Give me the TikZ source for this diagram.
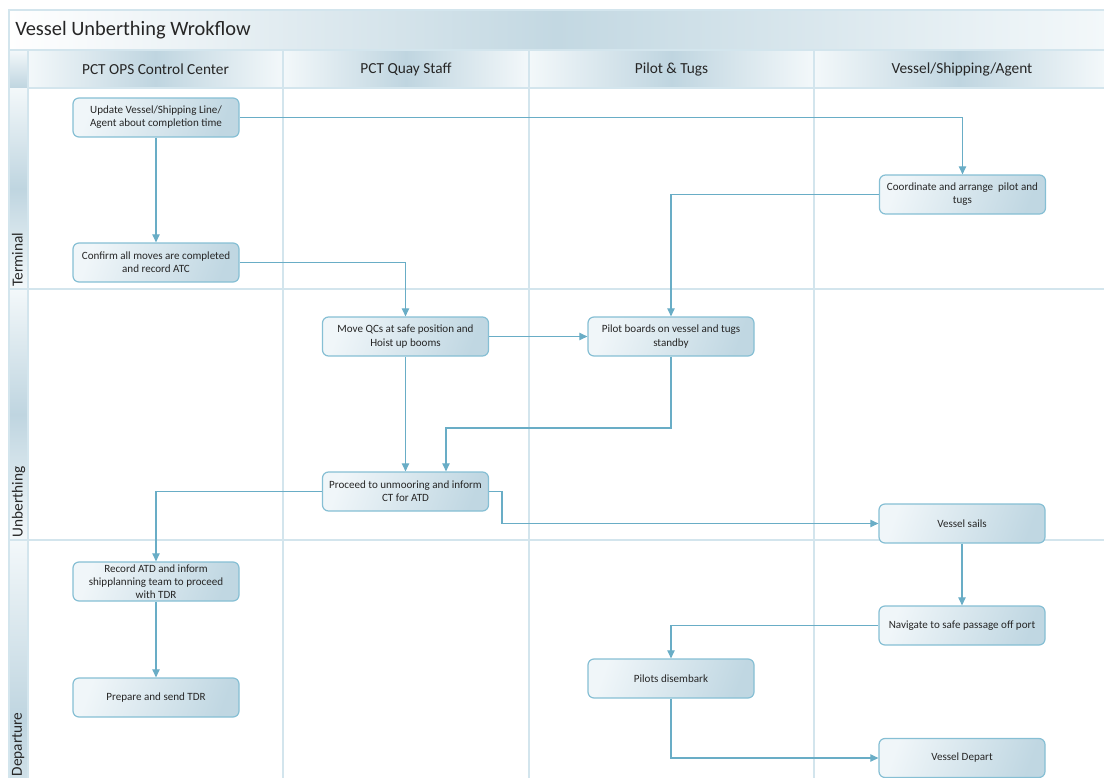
\documentclass[tikz,border=0pt]{standalone}
\usepackage{fontspec}
\setmainfont{Carlito}
\usetikzlibrary{arrows.meta}
\definecolor{gridc}{HTML}{D3E5ED}
\definecolor{boxline}{HTML}{86BFD4}
\definecolor{boxlight}{HTML}{F0F6F9}
\definecolor{boxdark}{HTML}{C0D7E2}
\definecolor{flow}{HTML}{69ADC6}
\definecolor{hdr}{HTML}{BFD5E0}
\definecolor{band}{HTML}{C3D8E2}
\definecolor{hdrlight}{HTML}{F3F8FA}
\definecolor{txt}{HTML}{262626}
\begin{document}
\begin{tikzpicture}[x=0.75pt,y=-0.75pt,
  stepbox/.style={draw=boxline, line width=0.9pt, rounded corners=4.5pt,
    left color=boxlight, right color=boxdark, shading angle=70,
    minimum width=124.5pt, minimum height=29.25pt, align=center,
    font=\fontsize{8.3}{9.9}\selectfont, text=txt, inner sep=1pt},
  flowline/.style={draw=flow, line width=0.85pt, -{Triangle[length=6pt,width=5.5pt]}},
  gridline/.style={draw=gridc, line width=1.1pt},
  headcell/.style={left color=hdrlight, right color=hdrlight, middle color=hdr},
  lanecell/.style={top color=hdrlight, bottom color=hdrlight, middle color=hdr},
  headtext/.style={font=\fontsize{11.5}{13.5}\selectfont, text=txt},
  lanetext/.style={font=\fontsize{11.5}{13.5}\selectfont, text=txt, rotate=90, anchor=north west, inner sep=1pt}]
\useasboundingbox (0,0) rectangle (1104,778);

% title band
\shade[left color=white, right color=hdrlight, middle color=band] (9,10) rectangle (1104,50);
\node[anchor=west, font=\fontsize{15.3}{18}\selectfont, text=txt, inner sep=0pt] (title) at (15,30) {Vessel Unberthing Wrokflow};

% column headers
\shade[headcell] (28,50) rectangle (283,88);
\shade[headcell] (283,50) rectangle (529,88);
\shade[headcell] (529,50) rectangle (814,88);
\shade[headcell] (814,50) rectangle (1104,88);
\shade[top color=hdrlight, bottom color=hdr] (9,50) rectangle (28,88);
\node[headtext] (h1) at (155.5,69) {PCT OPS Control Center};
\node[headtext] (h2) at (406,69) {PCT Quay Staff};
\node[headtext] (h3) at (671.5,69) {Pilot \& Tugs};
\node[headtext] (h4) at (962,69) {Vessel/Shipping/Agent};

% lane label strip
\shade[lanecell] (9,88) rectangle (28,289);
\shade[lanecell] (9,289) rectangle (28,540);
\shade[lanecell] (9,540) rectangle (28,900);
\node[lanetext] (l1) at (10.5,288) {Terminal};
\node[lanetext] (l2) at (10.5,539) {Unberthing};
\node[lanetext] (l3) at (10.5,778) {Departure};

% grid
\draw[gridline] (9,778) -- (9,10) -- (1104,10);
\draw[gridline] (9,50) -- (1104,50);
\draw[gridline] (28,88) -- (1104,88);
\draw[gridline] (28,50) -- (28,778);
\foreach \gx in {283,529,814} \draw[gridline] (\gx,50) -- (\gx,778);
\draw[gridline, line width=1.6pt] (9,289) -- (1104,289);
\draw[gridline, line width=1.6pt] (9,540) -- (1104,540);

% process steps
\node[stepbox] (upd) at (156,117.5) {Update Vessel/Shipping Line/\\Agent about completion time};
\node[stepbox] (cnf) at (156,262.5) {Confirm all moves are completed\\and record ATC};
\node[stepbox] (crd) at (962.5,194.5) {Coordinate and arrange~ pilot and\\tugs};
\node[stepbox] (mqc) at (405.5,336.5) {Move QCs at safe position and\\Hoist up booms};
\node[stepbox] (plb) at (671,336.5) {Pilot boards on vessel and tugs\\standby};
\node[stepbox] (prc) at (405.5,491.5) {Proceed to unmooring and inform\\CT for ATD};
\node[stepbox] (vsl) at (962,523.5) {Vessel sails};
\node[stepbox] (rat) at (156,581.5) {Record ATD and inform\\shipplanning team to proceed\\with TDR};
\node[stepbox] (nav) at (962,625.5) {Navigate to safe passage off port};
\node[stepbox] (tdr) at (156,697.5) {Prepare and send TDR};
\node[stepbox] (pds) at (671,678.5) {Pilots disembark};
\node[stepbox] (vdp) at (962,758) {Vessel Depart};

% helper points for routed connectors
\coordinate (pbturn) at (446,428);
\coordinate (prturn) at (502,491.5);

% connectors
\draw[flowline] (upd.east) -| (crd.north);
\draw[flowline] (upd.south) -- (cnf.north);
\draw[flowline] (cnf.east) -| (mqc.north);
\draw[flowline] (crd.west) -| (plb.north);
\draw[flowline] (mqc.east) -- (plb.west);
\draw[flowline] (mqc.south) -- (prc.north);
\draw[flowline] (plb.south) |- (pbturn) -- (pbturn |- prc.north);
\draw[flowline] (prc.west) -| (rat.north);
\draw[flowline] (prc.east) -- (prturn) |- (vsl.west);
\draw[flowline] (vsl.south) -- (nav.north);
\draw[flowline] (nav.west) -| (pds.north);
\draw[flowline] (rat.south) -- (tdr.north);
\draw[flowline] (pds.south) |- (vdp.west);
\end{tikzpicture}
\end{document}
